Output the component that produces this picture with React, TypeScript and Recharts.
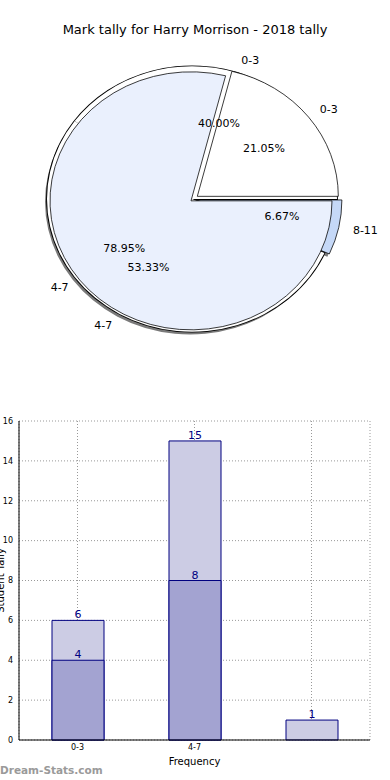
import * as React from "react";
import {
  PieChart,
  Pie,
  Cell,
  BarChart,
  Bar,
  XAxis,
  YAxis,
  CartesianGrid,
  LabelList,
} from "recharts";

// pie data (two overlaid pies, as in the source image)
const outerNames = ["0-3", "4-7"];
const outerValues = [4, 15];
const backNames = ["0-3", "4-7", "8-11"];
const backValues = [6, 8, 1];

// bar data
const barCategories = ["0-3", "4-7", "8-11"];
const barTickLabels = ["0-3", "4-7", ""];
const lightValues = [6, 15, 1];
const darkValues: (number | null)[] = [4, 8, null];
const yTicks = [0, 2, 4, 6, 8, 10, 12, 14, 16];

const FONT = "'DejaVu Sans', sans-serif";
const SCALE_Y = 0.915;

// geometry / style of the pies
const B = { cx: 192, cy: 199, r: 145 };
const A = { cx: 191, cy: 201, r: 141 };
const backExplode = [0, 0, 5];
const frontExplode = [8, 0];
const backFills = ["#ffffff", "#ffffff", "#c5d8f7"];
const backStrokes = ["none", "none", "#000"];
const frontFills = ["#ffffff", "#eaf0fd"];
const frontStrokes = ["#000", "#000"];

function midAngle(values: number[], i: number) {
  const total = values.reduce((s, v) => s + v, 0);
  const before = values.slice(0, i).reduce((s, v) => s + v, 0);
  return ((before + values[i] / 2) / total) * 360;
}

function pieLayers(
  id: string,
  names: string[],
  values: number[],
  explode: number[],
  fills: string[],
  strokes: string[],
  geo: { cx: number; cy: number; r: number },
  dx = 0,
  dy = 0
) {
  const data = names.map((n, i) => ({ name: n, value: values[i] }));
  return names.map((_, i) => {
    const a = (midAngle(values, i) * Math.PI) / 180;
    return (
      <Pie
        key={`${id}-${i}`}
        data={data}
        dataKey="value"
        nameKey="name"
        cx={geo.cx + dx + explode[i] * Math.cos(a)}
        cy={geo.cy + dy - explode[i] * Math.sin(a)}
        outerRadius={geo.r}
        startAngle={0}
        endAngle={360}
        isAnimationActive={false}
        labelLine={false}
      >
        {data.map((d, j) => (
          <Cell
            key={d.name}
            fill={j === i ? fills[i] : "none"}
            stroke={j === i ? strokes[i] : "none"}
            strokeWidth={0.8}
          />
        ))}
      </Pie>
    );
  });
}

function makeLabel(names: string[], values: number[], explode: number[]) {
  const total = values.reduce((s, v) => s + v, 0);
  return (p: any) => {
    const i = p.index;
    const a = (p.midAngle * Math.PI) / 180;
    const cos = Math.cos(a);
    const sin = Math.sin(a);
    const nameD = p.outerRadius * 1.1 + explode[i];
    const pctD = p.outerRadius * 0.6 + explode[i];
    const at = (d: number) => `translate(${p.cx + d * cos} ${p.cy - d * sin}) scale(1 ${1 / SCALE_Y})`;
    return (
      <g key={`lbl-${i}`}>
        <g transform={at(nameD)}>
          <text
            x={0}
            y={0}
            textAnchor={cos >= 0 ? "start" : "end"}
            dominantBaseline="central"
            fontSize={11}
            fontFamily={FONT}
            fill="#000"
          >
            {names[i]}
          </text>
        </g>
        <g transform={at(pctD)}>
          <text x={0} y={0} textAnchor="middle" dominantBaseline="central" fontSize={11} fontFamily={FONT} fill="#000">
            {((values[i] / total) * 100).toFixed(2)}%
          </text>
        </g>
      </g>
    );
  };
}

function labelLayer(id: string, names: string[], values: number[], explode: number[], geo: { cx: number; cy: number; r: number }) {
  const data = names.map((n, i) => ({ name: n, value: values[i] }));
  return (
    <Pie
      key={id}
      data={data}
      dataKey="value"
      nameKey="name"
      cx={geo.cx}
      cy={geo.cy}
      outerRadius={geo.r}
      startAngle={0}
      endAngle={360}
      isAnimationActive={false}
      labelLine={false}
      label={makeLabel(names, values, explode)}
    >
      {data.map((d) => (
        <Cell key={d.name} fill="none" stroke="none" />
      ))}
    </Pie>
  );
}

const barData = barCategories.map((c, i) => ({ cat: c, light: lightValues[i], dark: darkValues[i] }));

const grey3 = ["#7a7a7a", "#7a7a7a", "#7a7a7a"];
const none3 = ["none", "none", "none"];

export default function App() {
  return (
    <div style={{ position: "absolute", left: 0, top: 0, width: 390, height: 780, background: "#fff", fontFamily: FONT, overflow: "hidden" }}>
      <div style={{ position: "absolute", top: 21, left: 0, width: 390, textAlign: "center", fontSize: 13, lineHeight: "18px" }}>
        Mark tally for Harry Morrison - 2018 tally
      </div>

      <div
        style={{
          position: "absolute",
          top: 0,
          left: 0,
          width: 390,
          height: 400,
          transform: `scaleY(${SCALE_Y})`,
          transformOrigin: `0px ${B.cy}px`,
        }}
      >
        <PieChart width={390} height={400} margin={{ top: 0, right: 0, bottom: 0, left: 0 }}>
          {pieLayers("shadowB", backNames, backValues, backExplode, grey3, none3, B, -2, 3)}
          {pieLayers("ringB", backNames.slice(0, 2), backValues.slice(0, 2), [0, 0], ["#000", "#000"], ["none", "none"], { ...B, r: B.r + 0.9 })}
          {pieLayers("back", backNames, backValues, backExplode, backFills, backStrokes, B)}
          {pieLayers("front", outerNames, outerValues, frontExplode, frontFills, frontStrokes, A)}
          {labelLayer("lblB", backNames, backValues, backExplode, B)}
          {labelLayer("lblA", outerNames, outerValues, frontExplode, A)}
        </PieChart>
      </div>

      <div style={{ position: "absolute", top: 410, left: 0 }}>
        <BarChart
          width={390}
          height={360}
          data={barData}
          margin={{ top: 11, right: 20, bottom: 0, left: 0 }}
          barSize={52}
          barGap={-52}
        >
          <CartesianGrid stroke="#999" strokeDasharray="1 2" />
          <XAxis
            dataKey="cat"
            height={30}
            tickFormatter={(_v: any, i: number) => barTickLabels[i]}
            tick={{ fontSize: 8, fill: "#000", fontFamily: FONT }}
            tickLine={false}
            tickSize={2}
            axisLine={{ stroke: "#000" }}
            label={{ value: "Frequency", position: "insideBottom", offset: 5, fontSize: 10, fill: "#000", fontFamily: FONT }}
          />
          <XAxis xAxisId="top" dataKey="cat" orientation="top" height={0} tick={false} tickLine={false} axisLine={{ stroke: "#000" }} />
          <YAxis
            width={19}
            domain={[0, 16]}
            ticks={yTicks}
            tick={{ fontSize: 8, fill: "#000", fontFamily: FONT }}
            tickLine={false}
            tickSize={4}
            axisLine={{ stroke: "#000" }}
            label={{ value: "Student Tally", angle: -90, position: "center", dx: -9, fontSize: 10, fill: "#000", fontFamily: FONT }}
          />
          <YAxis yAxisId="right" orientation="right" width={0} domain={[0, 16]} tick={false} tickLine={false} axisLine={{ stroke: "#000" }} />
          <Bar dataKey="light" fill="#ccccE4" stroke="#000080" strokeWidth={1} isAnimationActive={false}>
            <LabelList dataKey="light" position="top" offset={2} fill="#000080" fontSize={11} fontFamily={FONT} />
          </Bar>
          <Bar dataKey="dark" fill="#a3a3d1" stroke="#000080" strokeWidth={1} isAnimationActive={false}>
            <LabelList
              dataKey="dark"
              position="top"
              offset={2}
              fill="#000080"
              fontSize={11}
              fontFamily={FONT}
              formatter={(v: any) => (v == null ? "" : v)}
            />
          </Bar>
        </BarChart>
      </div>

      <div style={{ position: "absolute", left: 0, top: 762, fontSize: 10.5, color: "#9a9a9a", fontWeight: "bold", lineHeight: "16px" }}>
        Dream-Stats.com
      </div>
    </div>
  );
}
